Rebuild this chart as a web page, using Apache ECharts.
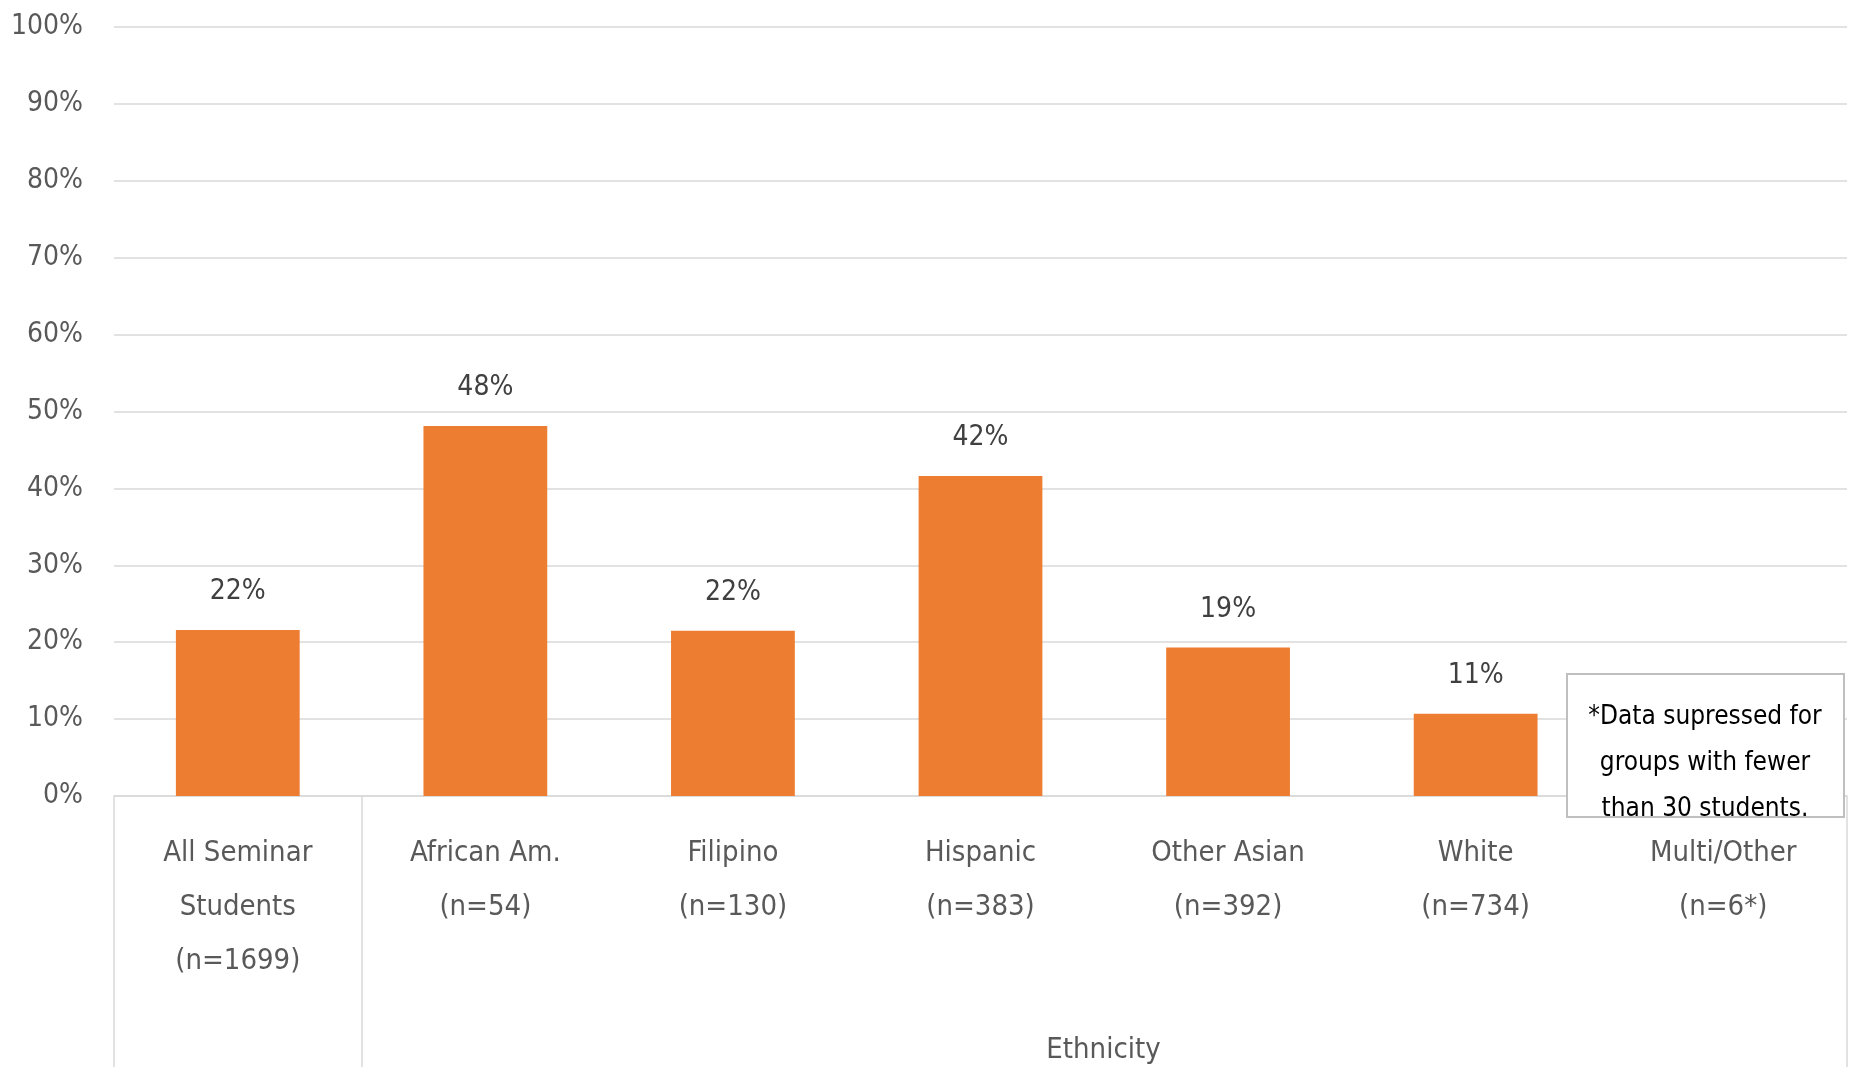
<!DOCTYPE html>
<html>
<head>
<meta charset="utf-8">
<script src="https://cdn.jsdelivr.net/npm/echarts@6/dist/echarts.min.js"></script>
<style>
html,body{margin:0;padding:0;background:#fff;}
#main{width:1856px;height:1067px;}
</style>
</head>
<body>
<div id="main"></div>
<script>
const categories = ['All Seminar\nStudents\n(n=1699)', 'African Am.\n(n=54)', 'Filipino\n(n=130)', 'Hispanic\n(n=383)', 'Other Asian\n(n=392)', 'White\n(n=734)', 'Multi/Other\n(n=6*)'];
const values = [0.216, 0.481, 0.215, 0.416, 0.193, 0.107, null];
const groupLabel = 'Ethnicity';
const noteLines = ['*Data supressed for', 'groups with fewer', 'than 30 students.'];

const FONT = "'DejaVu Sans Condensed', 'DejaVu Sans', sans-serif";
const chart = echarts.init(document.getElementById('main'), null, {renderer: 'canvas'});
chart.setOption({
  animation: false,
  backgroundColor: '#ffffff',
  grid: {left: 114, right: 9, top: 27, bottom: 271, containLabel: false, outerBoundsMode: 'none'},
  xAxis: {
    type: 'category',
    data: categories,
    boundaryGap: true,
    axisLine: {show: true, lineStyle: {color: '#D9D9D9', width: 1.5}},
    axisTick: {show: true, interval: function (i) { return i <= 1; }, length: 280, lineStyle: {color: '#D9D9D9', width: 1.5}},
    axisLabel: {interval: 0, margin: 30, color: '#595959', fontSize: 29, lineHeight: 54, fontFamily: FONT},
    name: groupLabel,
    nameLocation: 'middle',
    nameGap: 240,
    nameTextStyle: {color: '#595959', fontSize: 29, fontFamily: FONT, padding: [0, 0, 0, 246]}
  },
  yAxis: {
    type: 'value',
    min: 0, max: 1, interval: 0.1,
    axisLine: {show: false},
    axisTick: {show: false},
    splitLine: {lineStyle: {color: '#D9D9D9', width: 1.5}},
    axisLabel: {margin: 31, color: '#595959', fontSize: 28, fontFamily: FONT,
      formatter: function (v) { return Math.round(v * 100) + '%'; }}
  },
  series: [{
    type: 'bar',
    data: values,
    barCategoryGap: '50%',
    itemStyle: {color: '#ED7D31'},
    label: {show: true, position: 'top', distance: 24, color: '#404040', fontSize: 28, fontFamily: FONT,
      formatter: function (p) { return p.value == null ? '' : Math.round(p.value * 100) + '%'; }}
  }],
  graphic: [{
    type: 'group',
    left: 1566, top: 673,
    z: 100,
    zlevel: 1,
    children: [
      {type: 'rect', z: 100, zlevel: 1, shape: {x: 0, y: 0, width: 277, height: 143}, style: {fill: '#ffffff', stroke: '#BFBFBF', lineWidth: 2}},
      {type: 'text', z: 101, zlevel: 1, x: 138, y: 89, style: {text: noteLines.join('\n'), align: 'center', verticalAlign: 'middle', fill: '#000000', fontSize: 26, lineHeight: 46, fontFamily: FONT}}
    ]
  }]
});
</script>
</body>
</html>
